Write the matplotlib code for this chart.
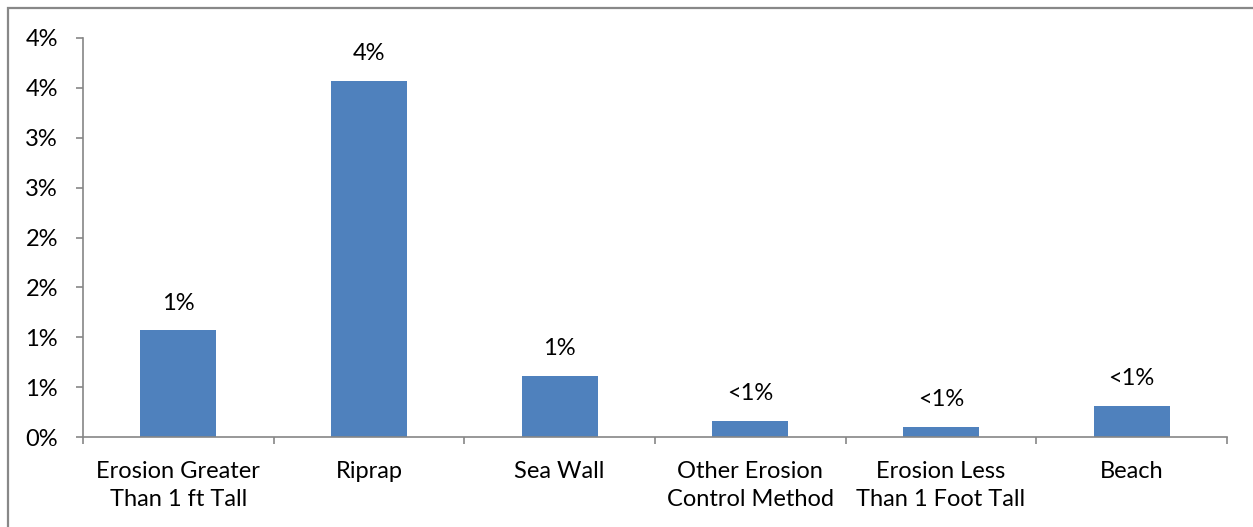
import numpy as np
import matplotlib
matplotlib.use('Agg')
import matplotlib.pyplot as plt
from matplotlib.patches import Rectangle
from matplotlib.ticker import FixedLocator

plt.rcParams['font.family'] = ['Lato', 'DejaVu Sans']

# shoreline type shares, in percent
categories = ['Erosion Greater\nThan 1 ft Tall', 'Riprap', 'Sea Wall',
              'Other Erosion\nControl Method', 'Erosion Less\nThan 1 Foot Tall', 'Beach']
values = [1.07, 3.57, 0.61, 0.16, 0.10, 0.31]
ytick_vals = [0, 0.5, 1.0, 1.5, 2.0, 2.5, 3.0, 3.5, 4.0]
ytick_labels = ['0%', '1%', '1%', '2%', '2%', '3%', '3%', '4%', '4%']

bar_color = '#4F81BD'
axis_color = '#868686'
fs = 17

fig = plt.figure(figsize=(12.53, 5.27), dpi=100)
ax = fig.add_axes([83/1253, 1 - 437/527, 1144/1253, 399/527])

x = np.arange(len(categories))
bars = ax.bar(x, values, width=0.4, color=bar_color, zorder=2)

for b, v in zip(bars, values):
    txt = '%.0f%%' % v if v >= 0.5 else '<1%'
    ax.annotate(txt, (b.get_x() + b.get_width()/2, v), xytext=(0, 12),
                textcoords='offset points', ha='center', va='bottom', fontsize=fs)

ax.set_xlim(-0.5, len(categories) - 0.5)
ax.set_ylim(0, 4.0)

ax.set_yticks(ytick_vals)
ax.set_yticklabels(ytick_labels, fontsize=fs)

# tick marks sit between categories, labels at the centres
ax.xaxis.set_major_locator(FixedLocator(np.arange(-0.5, len(categories), 1.0)))
ax.xaxis.set_major_formatter(plt.NullFormatter())
ax.set_xticks(x, minor=True)
ax.set_xticklabels(categories, minor=True, fontsize=fs, linespacing=1.45)
ax.tick_params(axis='x', which='minor', length=0, pad=17)
ax.tick_params(axis='x', which='major', length=5, width=1.2, color=axis_color, direction='out')
ax.tick_params(axis='y', length=5, width=1.2, color=axis_color, pad=13)

for s in ['top', 'right']:
    ax.spines[s].set_visible(False)
for s in ['left', 'bottom']:
    ax.spines[s].set_color(axis_color)
    ax.spines[s].set_linewidth(1.2)

# chart area frame
fig.patches.append(Rectangle((8/1253, -0.2), 1.2, 1.2 - 8/527, transform=fig.transFigure,
                             fill=False, edgecolor='#888888', linewidth=1.6))

fig.savefig('out.png', dpi=100)
